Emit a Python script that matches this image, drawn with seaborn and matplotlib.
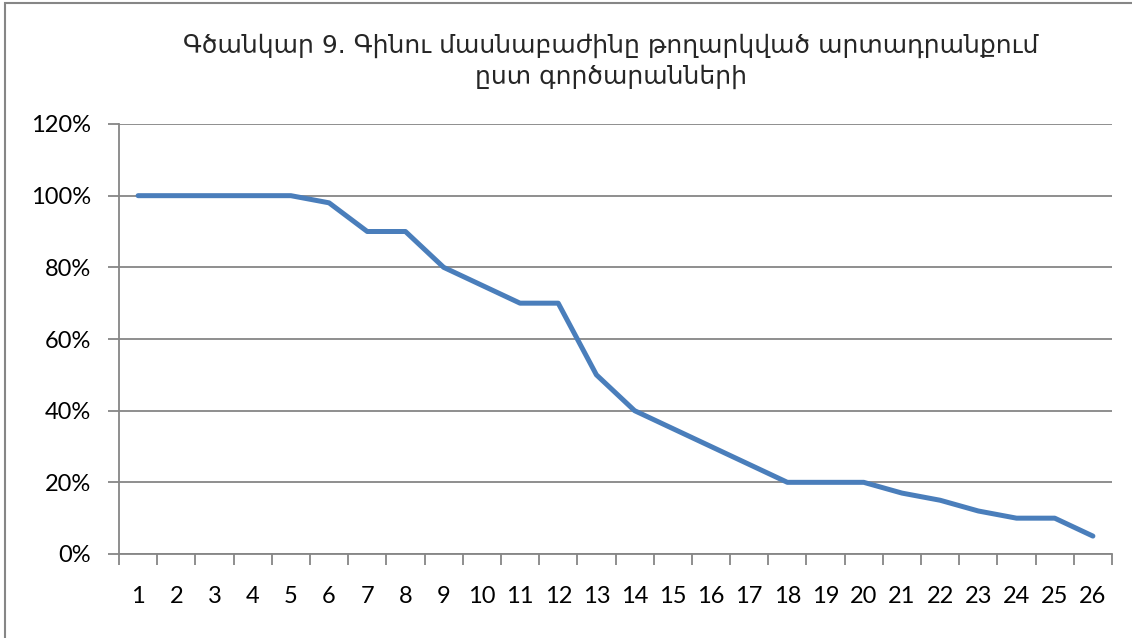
import matplotlib
matplotlib.use("Agg")
import matplotlib.pyplot as plt
import seaborn as sns
import pandas as pd
from matplotlib.patches import Rectangle
from matplotlib.ticker import FixedLocator, PercentFormatter

plants = list(range(1, 27))
share = [100, 100, 100, 100, 100, 98, 90, 90, 80, 75, 70, 70, 50, 40,
         35, 30, 25, 20, 20, 20, 17, 15, 12, 10, 10, 5]
title = "Գծանկար 9. Գինու մասնաբաժինը թողարկված արտադրանքում\nըստ գործարանների"

sns.set_theme(style="white")
plt.rcParams['font.family'] = ['Lato', 'DejaVu Sans']

df = pd.DataFrame({"plant": plants, "share": share})

fig = plt.figure(figsize=(11.32, 6.38), dpi=100)
ax = fig.add_axes([119/1132, 1-554/638, (1112-119)/1132, (554-124)/638])

sns.lineplot(data=df, x="plant", y="share", ax=ax, color="#4a7ebb",
             linewidth=3.6, solid_joinstyle="round", solid_capstyle="round")

grid_c = "#868686"
ax.set_xlim(0.5, 26.5)
ax.set_ylim(0, 120)
ax.set_yticks(range(0, 121, 20))
ax.yaxis.set_major_formatter(PercentFormatter(decimals=0))
ax.set_xticks(plants)
ax.set_xticklabels([str(p) for p in plants])
ax.xaxis.set_minor_locator(FixedLocator([p + 0.5 for p in [0] + plants]))
ax.yaxis.grid(True, color=grid_c, linewidth=1.3)
ax.set_axisbelow(True)
for s in ["top", "right"]:
    ax.spines[s].set_visible(False)
for s in ["left", "bottom"]:
    ax.spines[s].set_color(grid_c)
    ax.spines[s].set_linewidth(1.3)
ax.tick_params(axis="x", which="major", length=0, pad=23, labelsize=17, colors="black")
ax.tick_params(axis="x", which="minor", length=8, width=1.3, color=grid_c, direction="out", bottom=True)
ax.tick_params(axis="y", which="major", length=8, width=1.3, color=grid_c, direction="out", left=True, pad=12, labelsize=17, labelcolor="black")
ax.set_xlabel("")
ax.set_ylabel("")

fig.text(611/1132, 1-61/638, title, ha="center", va="center", fontsize=18,
         family=['DejaVu Sans'], linespacing=1.35)

fig.patches.append(Rectangle((5/1132, -0.05), 1.1, 0.05 + (1-3/638), transform=fig.transFigure,
                             fill=False, edgecolor="#868686", linewidth=1.5))

fig.savefig("out.png", dpi=100)
